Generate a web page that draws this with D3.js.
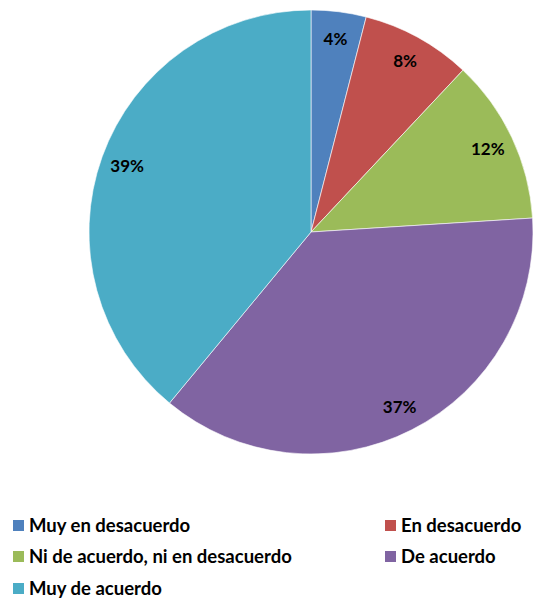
<!DOCTYPE html>
<html>
<head>
<meta charset="utf-8">
<script src="https://cdnjs.cloudflare.com/ajax/libs/d3/7.8.5/d3.min.js"></script>
<style>
  html, body { margin: 0; padding: 0; background: #fff; }
  svg { display: block; }
  text { font-family: Lato, "Open Sans", sans-serif; font-weight: bold; fill: #000; }
</style>
</head>
<body>
<svg id="chart" width="551" height="600"></svg>
<script>
// Survey responses, percentage of answers per category
const categories = [
  "Muy en desacuerdo",
  "En desacuerdo",
  "Ni de acuerdo, ni en desacuerdo",
  "De acuerdo",
  "Muy de acuerdo"
];
const values = [4, 8, 12, 37, 39];
const colors = ["#4F81BD", "#C0504D", "#9BBB59", "#8064A2", "#4BACC6"];

const svg = d3.select("#chart");
const cx = 311, cy = 232, radius = 222;

const data = categories.map((c, i) => ({ category: c, value: values[i], color: colors[i] }));

const pie = d3.pie().value(d => d.value).sort(null);
const arc = d3.arc().innerRadius(0).outerRadius(radius);
const labelArc = d3.arc().innerRadius(radius * 0.88).outerRadius(radius * 0.88);

const g = svg.append("g").attr("transform", `translate(${cx},${cy})`);
const arcs = pie(data);

g.selectAll("path.slice")
  .data(arcs)
  .enter().append("path")
  .attr("class", "slice")
  .attr("d", arc)
  .attr("fill", d => d.data.color)
  .attr("stroke", "#ffffff")
  .attr("stroke-width", 0.6);

g.selectAll("text.pct")
  .data(arcs)
  .enter().append("text")
  .attr("class", "pct")
  .attr("transform", d => `translate(${labelArc.centroid(d)})`)
  .attr("text-anchor", "middle")
  .attr("dominant-baseline", "central")
  .style("font-size", "17px")
  .text(d => d.data.value + "%");

// Legend: two columns, wrapping into rows
const legendX = [13, 385], legendY = [525, 556, 588];
const legend = svg.selectAll("g.legend")
  .data(data)
  .enter().append("g")
  .attr("class", "legend")
  .attr("transform", (d, i) => `translate(${legendX[i % 2]},${legendY[Math.floor(i / 2)]})`);

legend.append("rect")
  .attr("x", 0).attr("y", -5)
  .attr("width", 11).attr("height", 11)
  .attr("fill", d => d.color);

legend.append("text")
  .attr("x", 16)
  .attr("dominant-baseline", "central")
  .style("font-size", "18.5px")
  .text(d => d.category);
</script>
</body>
</html>
